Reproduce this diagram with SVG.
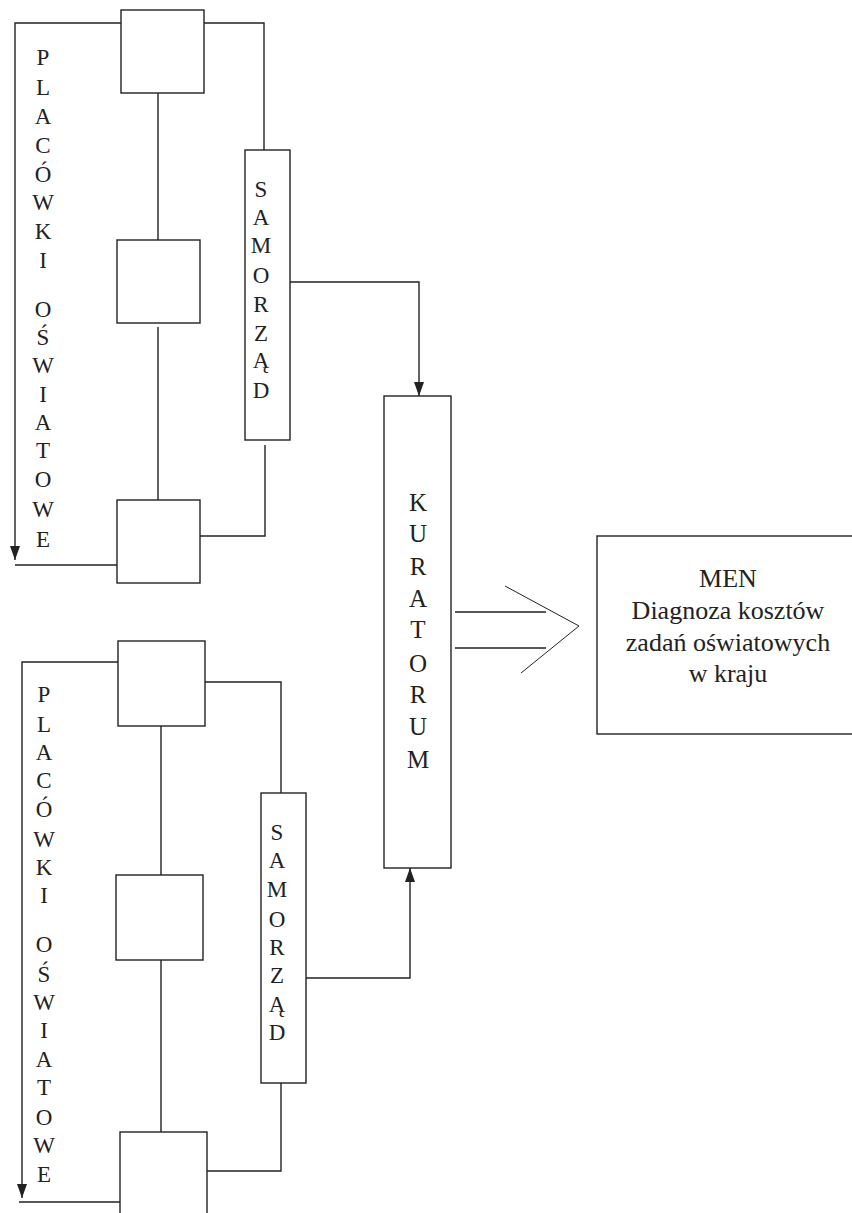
<svg xmlns="http://www.w3.org/2000/svg" width="852" height="1213" viewBox="0 0 852 1213">
<style>
.box{fill:#fff;stroke:#222;stroke-width:1.4}
.ln{fill:none;stroke:#222;stroke-width:1.4}
.thin{fill:none;stroke:#222;stroke-width:1}
text{font-family:"Liberation Serif","Times New Roman",serif;fill:#222;text-anchor:middle}
.v{font-size:23px}
.k{font-size:25px}
.m{font-size:26px}
</style>
<defs>
<marker id="ah" viewBox="0 0 14 10" refX="14" refY="5" markerWidth="14" markerHeight="10" markerUnits="userSpaceOnUse" orient="auto">
<path d="M0,0 L14,5 L0,10 z" fill="#222"/>
</marker>
</defs>
<g id="connectors">
<path class="ln" d="M121,23 H15 V560" marker-end="url(#ah)"/>
<path class="ln" d="M15,565 H117"/>
<path class="ln" d="M204,23 H264 V150"/>
<path class="ln" d="M158,93 V240"/>
<path class="ln" d="M158,327 V500"/>
<path class="ln" d="M265,445 V536 H200"/>
<path class="ln" d="M290,282 H419 V396" marker-end="url(#ah)"/>
<path class="ln" d="M118,662 H22 V1198" marker-end="url(#ah)"/>
<path class="ln" d="M19,1202 H120"/>
<path class="ln" d="M205,682 H281 V793"/>
<path class="ln" d="M161,726 V875"/>
<path class="ln" d="M161,960 V1132"/>
<path class="ln" d="M281,1083 V1171 H207"/>
<path class="ln" d="M306,978 H410 V868" marker-end="url(#ah)"/>
<path class="ln" d="M455,612 H546 M455,648 H546"/>
<path class="thin" d="M505,586 L579,626 L521,673"/>
</g>
<g id="p1a"><rect class="box" x="121" y="10" width="83" height="83"/></g>
<g id="p1b"><rect class="box" x="117" y="240" width="83" height="83"/></g>
<g id="p1c"><rect class="box" x="117" y="500" width="83" height="83"/></g>
<g id="p2a"><rect class="box" x="118" y="641" width="87" height="85"/></g>
<g id="p2b"><rect class="box" x="116" y="875" width="87" height="85"/></g>
<g id="p2c"><rect class="box" x="120" y="1132" width="87" height="90"/></g>
<g id="label1" class="v">
<text x="43" y="65">P</text><text x="43" y="95">L</text><text x="43" y="124">A</text><text x="43" y="153">C</text><text x="43" y="182">Ó</text><text x="43" y="210">W</text><text x="43" y="239">K</text><text x="43" y="268">I</text>
<text x="43" y="317">O</text><text x="43" y="345">Ś</text><text x="43" y="373">W</text><text x="43" y="402">I</text><text x="43" y="430">A</text><text x="43" y="458">T</text><text x="43" y="487">O</text><text x="43" y="517">W</text><text x="43" y="547">E</text>
</g>
<g id="label2" class="v">
<text x="44" y="702">P</text><text x="44" y="732">L</text><text x="44" y="760">A</text><text x="44" y="788">C</text><text x="44" y="817">Ó</text><text x="44" y="847">W</text><text x="44" y="875">K</text><text x="44" y="903">I</text>
<text x="44" y="952">O</text><text x="44" y="982">Ś</text><text x="44" y="1010">W</text><text x="44" y="1038">I</text><text x="44" y="1067">A</text><text x="44" y="1095">T</text><text x="44" y="1125">O</text><text x="44" y="1153">W</text><text x="44" y="1182">E</text>
</g>
<g id="samorzad1">
<rect class="box" x="245" y="150" width="45" height="290"/>
<g class="v"><text x="261" y="197">S</text><text x="261" y="225">A</text><text x="261" y="253">M</text><text x="261" y="283">O</text><text x="261" y="312">R</text><text x="261" y="341">Z</text><text x="261" y="368">Ą</text><text x="261" y="398">D</text></g>
</g>
<g id="samorzad2">
<rect class="box" x="261" y="793" width="45" height="290"/>
<g class="v"><text x="277" y="840">S</text><text x="277" y="868">A</text><text x="277" y="897">M</text><text x="277" y="927">O</text><text x="277" y="955">R</text><text x="277" y="983">Z</text><text x="277" y="1012">Ą</text><text x="277" y="1040">D</text></g>
</g>
<g id="kuratorium">
<rect class="box" x="384" y="396" width="67" height="472"/>
<g class="k"><text x="418" y="511">K</text><text x="418" y="542">U</text><text x="418" y="575">R</text><text x="418" y="607">A</text><text x="418" y="638">T</text><text x="418" y="672">O</text><text x="418" y="703">R</text><text x="418" y="735">U</text><text x="418" y="768">M</text></g>
</g>
<g id="men">
<rect class="box" x="597" y="536" width="260" height="198"/>
<g class="m"><text x="728" y="587">MEN</text><text x="728" y="619">Diagnoza kosztów</text><text x="728" y="651">zadań oświatowych</text><text x="728" y="682">w kraju</text></g>
</g>
</svg>
